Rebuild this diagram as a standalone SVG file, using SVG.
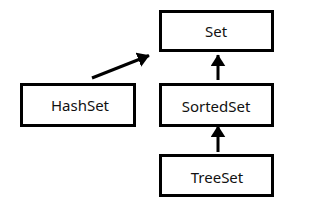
<svg xmlns="http://www.w3.org/2000/svg" width="314" height="212" viewBox="0 0 314 212">
<style>
.box{fill:#fff;stroke:#000;stroke-width:3}
.lbl{font-family:"Noto Sans","DejaVu Sans",sans-serif;font-size:15px;fill:#111;text-anchor:middle}
.edge{stroke:#000;stroke-width:3;fill:none}
</style>
<defs>
<marker id="ah" markerWidth="4" markerHeight="5" refX="3.8" refY="2.5" orient="auto" markerUnits="strokeWidth">
<path d="M0,0 L4,2.5 L0,5 Z" fill="#000"/>
</marker>
</defs>
<rect width="314" height="212" fill="#fff"/>
<g id="connectors">
<line class="edge" x1="218" y1="80" x2="218" y2="55" marker-end="url(#ah)"/>
<line class="edge" x1="218" y1="152" x2="218" y2="126" marker-end="url(#ah)"/>
<line class="edge" x1="92" y1="78" x2="149" y2="55.5" marker-end="url(#ah)"/>
</g>
<g id="set">
<rect class="box" x="160.5" y="11.5" width="112" height="39"/>
<text class="lbl" x="216" y="37">Set</text>
</g>
<g id="hashset">
<rect class="box" x="21.5" y="84.5" width="113" height="41"/>
<text class="lbl" x="80" y="111">HashSet</text>
</g>
<g id="sortedset">
<rect class="box" x="160.5" y="84.5" width="112" height="41"/>
<text class="lbl" x="216" y="112">SortedSet</text>
</g>
<g id="treeset">
<rect class="box" x="160.5" y="155.5" width="112" height="40"/>
<text class="lbl" x="217" y="183">TreeSet</text>
</g>
</svg>
